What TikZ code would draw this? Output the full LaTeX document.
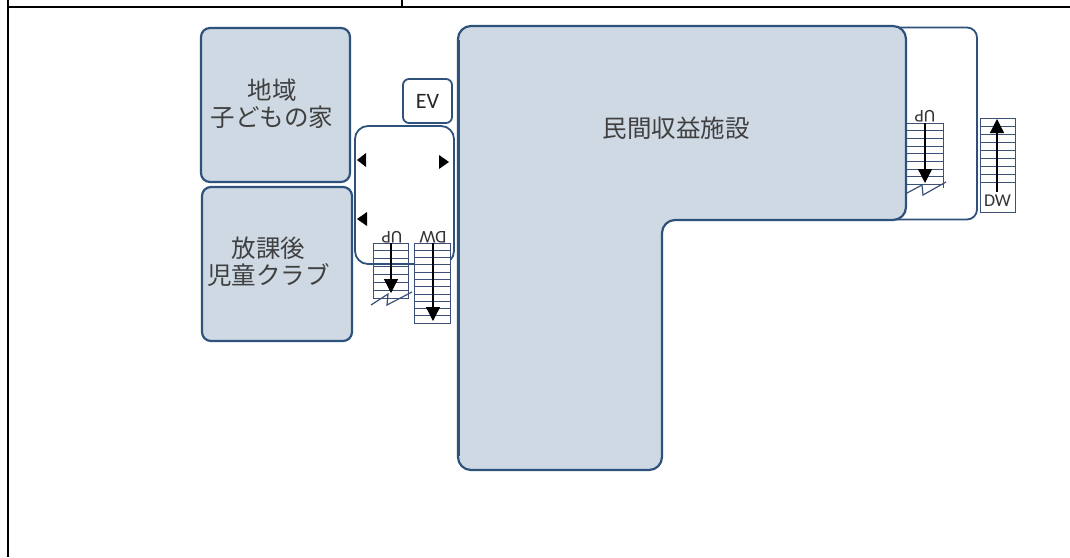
\documentclass[tikz,border=0pt]{standalone}
\usepackage{fontspec}
\newfontfamily\cjk{Noto Sans CJK JP}
\setmainfont{Carlito}
\usetikzlibrary{arrows.meta}
\definecolor{roomfill}{RGB}{207,217,228}
\definecolor{roomline}{RGB}{47,82,125}
\definecolor{stairline}{RGB}{60,80,120}
\tikzset{
  x=1pt,y=-1pt,
  frameline/.style={draw=black,line width=2pt},
  roombox/.style={draw=roomline,fill=roomfill,line width=2.2pt,rounded corners=9pt},
  openbox/.style={draw=roomline,fill=white,line width=1.8pt,rounded corners=10pt},
  roomlabel/.style={font=\cjk\fontsize{24.5}{27}\selectfont,align=center,text=black!75,inner sep=0pt},
  stairbox/.style={draw=stairline,line width=.8pt,fill=white},
  flight/.style={draw=black,line width=1.3pt,-{Triangle[length=14pt,width=14pt]}},
  stairtext/.style={font=\fontsize{18}{18}\selectfont,text=black!80,inner sep=0pt},
  zigzag/.style={draw=stairline,line width=1.2pt},
  marker/.style={fill=black,draw=none},
}
\newcommand{\treads}[5]{% x1, x2, y1, y2, n
  \foreach \i in {1,...,#5}{
    \pgfmathsetmacro{\yy}{#3+(#4-#3)*\i/(#5+1)}
    \draw[stairline,line width=.8pt] (#1,\yy) -- (#2,\yy);
  }
}
\begin{document}
\begin{tikzpicture}
\useasboundingbox (0,0) rectangle (1070,557);
\fill[white] (0,0) rectangle (1070,557);
% table rules
\coordinate (tl) at (8,6.7); \coordinate (tr) at (1070,6.7);
\coordinate (bl) at (8,557);
\coordinate (cellTop) at (402,0); \coordinate (cellBot) at (402,6.7);
\coordinate (ltop) at (8,0);
\draw[frameline] (ltop) -- (bl);
\draw[frameline] (tl) -- (tr);
\draw[frameline,line width=1.3pt] (cellTop) -- (cellBot);
% right open room
\draw[openbox] (860,27.5) -- (977,27.5) -- (977,219.5) -- (860,219.5) -- cycle;
% stair corridor
\draw[openbox,rounded corners=13pt] (355,126) rectangle (454,264);
% EV
\node[draw=roomline,fill=white,line width=1.8pt,rounded corners=6pt,minimum width=49pt,minimum height=44pt,inner sep=0pt,font=\fontsize{22}{22}\selectfont,text=black!85] (ev) at (427.5,101) {EV};
% rooms
\node[roombox,minimum width=149pt,minimum height=154pt,inner sep=0pt] (kodomo) at (275.5,105) {};
\node[roomlabel] (kodomotext) at (272,104) {\cjk 地域\\\cjk 子どもの家};
\node[roombox,minimum width=150pt,minimum height=154pt,inner sep=0pt] (club) at (277,264) {};
\node[roomlabel] (clubtext) at (268.5,262) {\cjk 放課後\\\cjk 児童クラブ};
% main L
\draw[roombox,rounded corners=13pt] (458,26) -- (906,26) -- (906,220) -- (662,220) -- (662,470) -- (458,470) -- cycle;
\draw[draw=roomline,line width=3pt] (458,40) -- (458,456);
\node[roomlabel] (main) at (676,128) {\cjk 民間収益施設};
% corridor markers
\fill[marker] (357,160) -- (366,153) -- (366,167) -- cycle;
\fill[marker] (449,162) -- (439,155) -- (439,169) -- cycle;
\fill[marker] (357,219) -- (367,212) -- (367,226) -- cycle;
% stairs: left UP
\draw[stairbox,fill=none] (373,243) rectangle (408,298);
\treads{373}{408}{243}{298}{6}
\coordinate (a1) at (391,243); \coordinate (a2) at (391,293);
\draw[flight] (a1) -- (a2);
\draw[zigzag] (371,305) -- (388,294) -- (387,305) -- (412,292);
\node[stairtext,rotate=180] (upl) at (392,237) {UP};
% stairs: left DW
\draw[stairbox] (414,243) rectangle (450,323);
\treads{414}{450}{243}{323}{10}
\coordinate (b1) at (433,243); \coordinate (b2) at (433,321);
\draw[flight] (b1) -- (b2);
\node[stairtext,rotate=180] (dwl) at (433,237) {DW};
% stairs: right UP
\draw[stairline,line width=.8pt] (907,123) -- (943,123) -- (943,188);
\treads{907}{943}{123}{192}{8}
\coordinate (c1) at (925,123); \coordinate (c2) at (925,183);
\draw[flight] (c1) -- (c2);
\draw[zigzag] (907,193) -- (922,185) -- (923,195) -- (946,182);
\node[stairtext,rotate=180] (upr) at (925,116) {UP};
% stairs: right DW
\draw[stairbox] (980,118) rectangle (1015,212);
\treads{980}{1015}{118}{190}{8}
\coordinate (d1) at (997,192); \coordinate (d2) at (997,119);
\draw[flight] (d1) -- (d2);
\node[stairtext] (dwr) at (997.5,201) {DW};
\end{tikzpicture}
\end{document}
